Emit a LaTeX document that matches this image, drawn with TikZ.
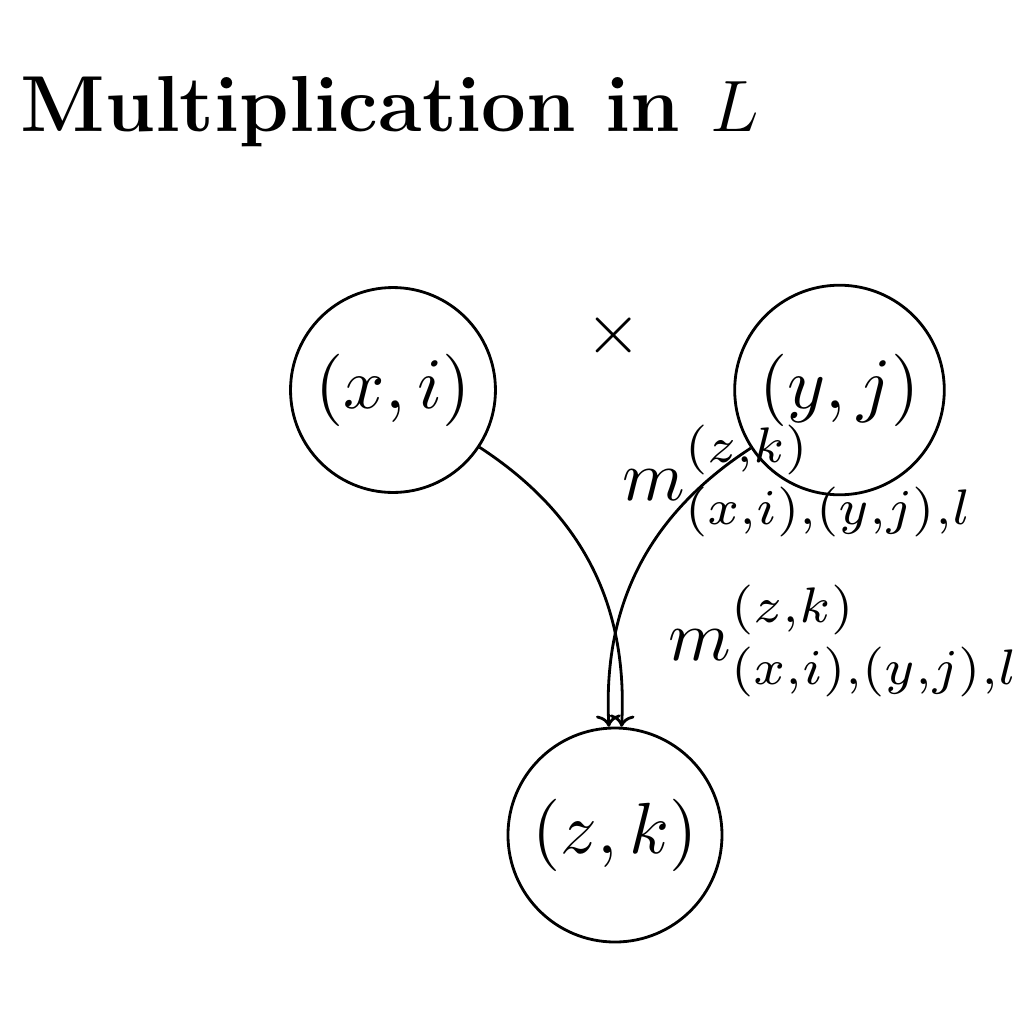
\documentclass[tikz,border=0pt]{standalone}
\usepackage{graphicx}
\usepackage{tikz}
\usetikzlibrary{positioning,arrows.meta}
\newcommand{\bigtext}[1]{\scalebox{2.06}{#1}}

\begin{document}
\begin{tikzpicture}[state/.style={draw, circle, thick, inner sep=3.6pt}, arrow/.style={->, thick}, mlabel/.style={anchor=base west, inner sep=0pt}]
\useasboundingbox (-5.12,-5.12) rectangle (5.12,5.12);
\node[anchor=base west, inner sep=0pt, font=\fontsize{22.6}{27}\selectfont\bfseries] (title) at (-4.92,3.81) {Multiplication in $L$};
\node[state] (xi) at (-1.19,1.22) {\bigtext{$(x,i)$}};
\node[state] (yj) at (3.275,1.22) {\bigtext{$(y,j)$}};
\node[state] (zk) at (1.03,-3.23) {\bigtext{$(z,k)$}};
\node (times) at (1.02,1.77) {\bigtext{$\times$}};
\draw[arrow] (xi) to[bend left=30] (zk);
\draw[arrow] (yj) to[bend right=30] (zk);
\node[mlabel] (m1) at (1.10,0.12) {\scalebox{2.03}{$m^{(z,k)}_{(x,i),(y,j),l}$}};
\node[mlabel] (m2) at (1.56,-1.48) {\scalebox{2.03}{$m^{(z,k)}_{(x,i),(y,j),l}$}};
\end{tikzpicture}
\end{document}
